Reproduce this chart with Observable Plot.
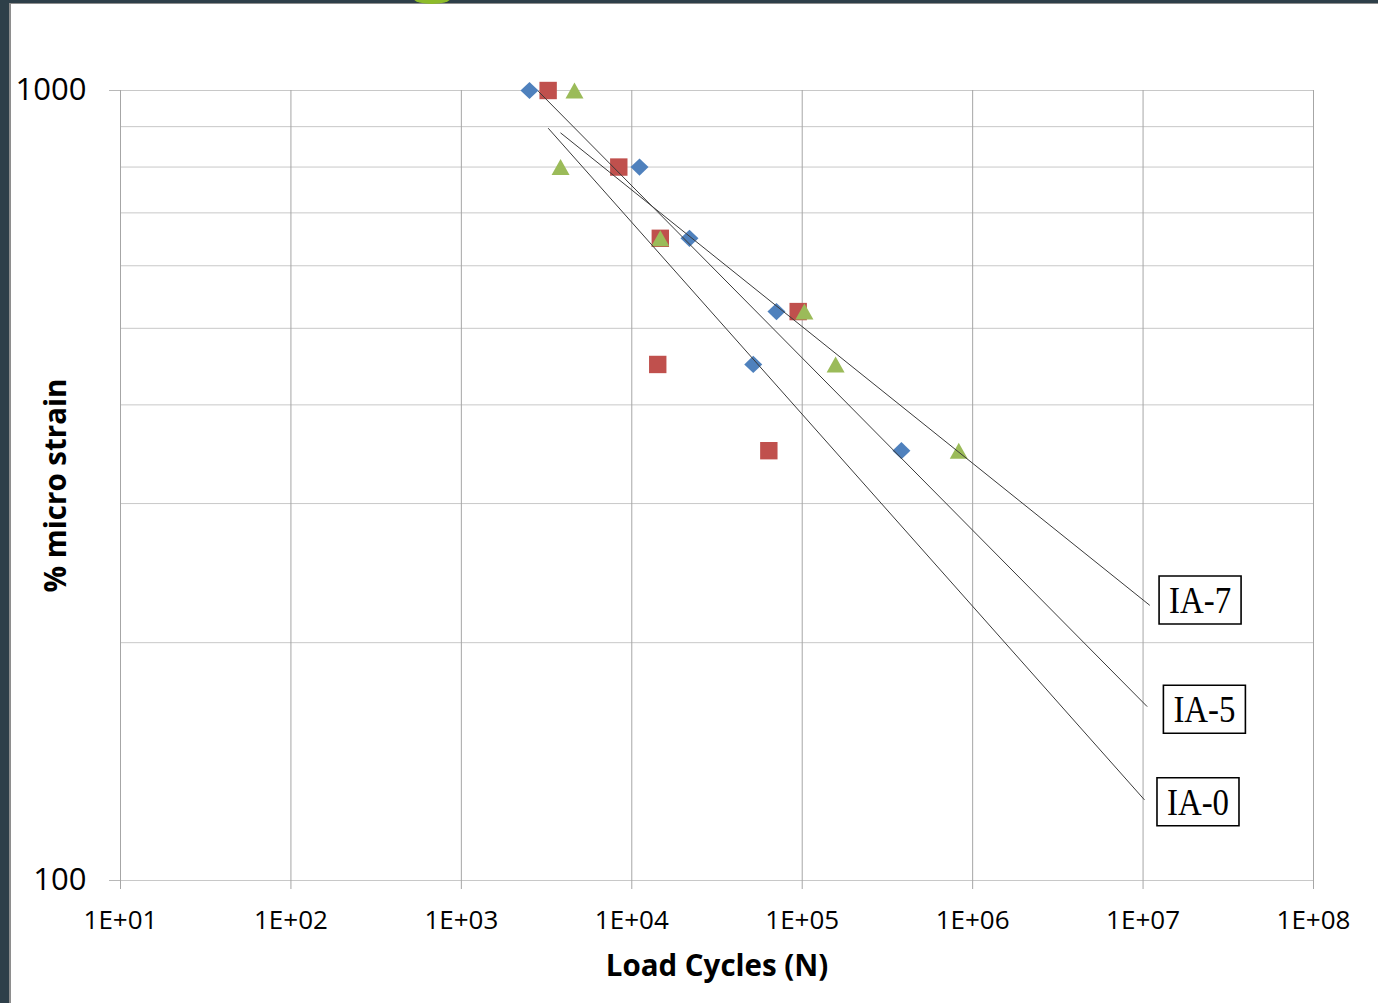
<!DOCTYPE html>
<html>
<head>
<meta charset="utf-8">
<script src="https://cdn.jsdelivr.net/npm/d3@7"></script>
<script src="https://cdn.jsdelivr.net/npm/@observablehq/plot@0.6"></script>
<style>
  html, body { margin: 0; padding: 0; background: #ffffff; }
  #wrap { position: relative; width: 1378px; height: 1003px; overflow: hidden; }
  #chart { position: absolute; left: 0; top: 0; }
  .deco { position: absolute; }
</style>
</head>
<body>
<div id="wrap">
  <div id="chart"></div>
  <div class="deco" style="left:0;top:0;width:1378px;height:3px;background:#2e3f49;"></div>
  <div class="deco" style="left:0;top:3px;width:1378px;height:1px;background:#8e8e8e;"></div>
  <div class="deco" style="left:0;top:0;width:9px;height:1003px;background:#2e3f49;"></div>
  <div class="deco" style="left:9px;top:3px;width:1.5px;height:1000px;background:#8e8e8e;"></div>
  <div class="deco" style="left:414px;top:-6px;width:36px;height:10px;border-radius:50%;background:#8dbb2a;"></div>
</div>
<script>
// ---- data ----
const strainLevels = [1000, 800, 650, 525, 450, 350];
const diamondCycles = [2510, 11100, 21800, 70600, 51600, 382000];
const squareCycles = [3230, 8390, 14700, 94700, 14200, 63700];
const triangleCycles = [4610, 3820, 14700, 103000, 157000, 829000];

const trendNames = ["IA-7", "IA-5", "IA-0"];
const trendStartCycles = [3816, 2824, 3232];
const trendStartStrain = [884, 998, 896];
const trendEndCycles = [1.095e7, 1.057e7, 1.019e7];
const trendEndStrain = [223, 166, 126.5];
const labelCycles = [2.16e7, 2.29e7, 2.10e7];
const labelStrain = [226.5, 164.7, 125.8];

const xTicks = [1e1, 1e2, 1e3, 1e4, 1e5, 1e6, 1e7, 1e8];
const yGrid = [100, 200, 300, 400, 500, 600, 700, 800, 900, 1000];
const yTickLabels = [100, 1000];

const xLabel = "Load Cycles (N)";
const yLabel = "% micro strain";

// ---- tables ----
const points = [];
strainLevels.forEach((s, i) => {
  points.push({series: "diamond", N: diamondCycles[i], strain: s});
  points.push({series: "square", N: squareCycles[i], strain: s});
  points.push({series: "triangle", N: triangleCycles[i], strain: s});
});
const trends = trendNames.map((name, i) => ({
  name,
  x1: trendStartCycles[i], y1: trendStartStrain[i],
  x2: trendEndCycles[i], y2: trendEndStrain[i],
  lx: labelCycles[i], ly: labelStrain[i]
}));

// marker shapes (pixel sizes)
const diamondSym = { draw(c) { c.moveTo(0, -8.6); c.lineTo(9, 0); c.lineTo(0, 8.6); c.lineTo(-9, 0); c.closePath(); } };
const squareSym = { draw(c) { c.rect(-8.7, -8.7, 17.4, 17.4); } };
const triangleSym = { draw(c) { c.moveTo(0, -8); c.lineTo(9, 8); c.lineTo(-9, 8); c.closePath(); } };
const boxSym = { draw(c) { c.rect(-41, -24, 82, 48); } };
const fmt = d => "1E+" + String(Math.round(Math.log10(d))).padStart(2, "0");

const chart = Plot.plot({
  width: 1378,
  height: 1003,
  marginLeft: 120,
  marginRight: 65,
  marginTop: 90,
  marginBottom: 123,
  x: {type: "log", domain: [10, 1e8]},
  y: {type: "log", domain: [100, 1000]},
  style: {fontFamily: "Open Sans", background: "transparent", color: "black"},
  marks: [
    Plot.gridY(yGrid, {stroke: "#c8c8c8", strokeOpacity: 1, strokeWidth: 1}),
    Plot.gridX(xTicks, {stroke: "#a6a6a6", strokeOpacity: 1, strokeWidth: 1}),
    Plot.axisX(xTicks, {tickSize: 9, tickPadding: 21, tickFormat: fmt, fontSize: 26,
      stroke: "#a6a6a6", fill: "black", label: null}),
    Plot.axisY(yTickLabels, {tickSize: 11, tickPadding: 23, tickFormat: d => String(d), fontSize: 31,
      stroke: "#b8b8b8", fill: "black", label: null}),
    Plot.text([yLabel], {text: d => d, frameAnchor: "left", dx: -64, rotate: -90,
      textAnchor: "middle", lineAnchor: "middle",
      fontSize: 29.5, fontWeight: "bold", fill: "black"}),
    Plot.text([xLabel], {text: d => d, frameAnchor: "bottom", dy: 86,
      textAnchor: "middle", lineAnchor: "middle",
      fontSize: 29.5, fontWeight: "bold", fill: "black"}),
    Plot.dot(points.filter(d => d.series === "diamond"), {x: "N", y: "strain", symbol: diamondSym,
      fill: "#4F81BD", stroke: "none"}),
    Plot.dot(points.filter(d => d.series === "square"), {x: "N", y: "strain", symbol: squareSym,
      fill: "#C0504D", stroke: "none"}),
    Plot.dot(points.filter(d => d.series === "triangle"), {x: "N", y: "strain", symbol: triangleSym,
      fill: "#9BBB59", stroke: "none"}),
    Plot.link(trends, {x1: "x1", y1: "y1", x2: "x2", y2: "y2", stroke: "#3a3a3a", strokeWidth: 1}),
    Plot.dot(trends, {x: "lx", y: "ly", symbol: boxSym, fill: "white", stroke: "black", strokeWidth: 1.6}),
    Plot.text(trends, {x: "lx", y: "ly", text: "name", fontFamily: "Liberation Serif", fontSize: 37,
      fill: "black", className: "boxlabel", dy: 1})
  ]
});

d3.select(chart).selectAll(".boxlabel text")
  .attr("textLength", 62)
  .attr("lengthAdjust", "spacingAndGlyphs");

document.getElementById("chart").appendChild(chart);
</script>
</body>
</html>
